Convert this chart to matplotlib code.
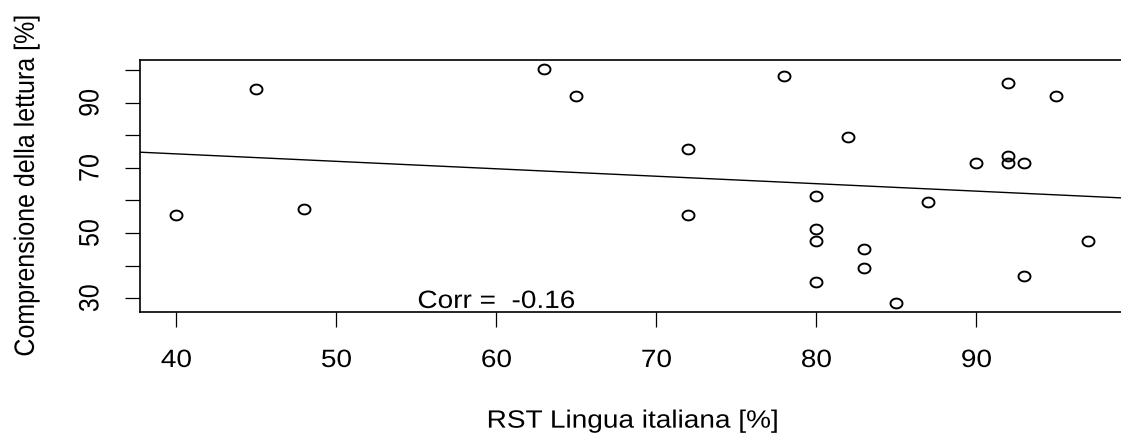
import numpy as np
import matplotlib
matplotlib.use("Agg")
import matplotlib.pyplot as plt
from matplotlib.path import Path
from matplotlib.patheffects import AbstractPathEffect
from matplotlib.transforms import Affine2D

# ----------------------------------
# Data
# ----------------------------------

rst_italiano = [40, 45, 48, 63, 65, 72, 72, 78, 80, 80, 80, 80, 82,
                83, 83, 85, 87, 90, 92, 92, 92, 93, 93, 95, 97]
comprensione = [55.6, 94.2, 57.4, 100.3, 92.1, 75.8, 55.6, 98.3, 61.4, 51.3,
                47.4, 34.9, 79.6, 45.0, 39.2, 28.6, 59.5, 71.4, 96.0, 73.7,
                71.4, 71.4, 36.8, 92.2, 47.4]
x_ticks = [40, 50, 60, 70, 80, 90]
y_ticks = [30, 40, 50, 60, 70, 80, 90, 100]
y_ticklabels = ["30", "", "50", "", "70", "", "90", ""]
corr_label = "Corr =  -0.16"

x = np.array(rst_italiano, dtype=float)
y = np.array(comprensione, dtype=float)


# the reference text looks stretched sideways, imitate that
class StretchX(AbstractPathEffect):
    def __init__(self, sx):
        super().__init__()
        self.sx = sx

    def draw_path(self, renderer, gc, tpath, affine, rgbFace=None):
        bb = tpath.get_extents(affine)
        cx = (bb.x0 + bb.x1) / 2
        affine = affine + Affine2D().translate(-cx, 0).scale(self.sx, 1).translate(cx, 0)
        renderer.draw_path(gc, tpath, affine, rgbFace)


stretch = [StretchX(1.12)]

plt.rcParams["font.family"] = ["Liberation Sans", "DejaVu Sans"]
plt.rcParams["font.size"] = 18

W, H = 1121, 433
fig = plt.figure(figsize=(W / 100, H / 100), dpi=100)

# R-style 4% padding around the data range
xpad = (x.max() - x.min()) * 0.04
ypad = (y.max() - y.min()) * 0.04
xlim = (x.min() - xpad, x.max() + xpad)
ylim = (y.min() - ypad, y.max() + ypad)

# plot region in pixels: left 140, top 60, bottom 312, right beyond the image
px_per_x = 16.0
left_px = 140
right_px = left_px + (xlim[1] - xlim[0]) * px_per_x
ax = fig.add_axes([left_px / W, (H - 312) / H,
                   (right_px - left_px) / W, (312 - 60) / H])
ax.set_xlim(*xlim)
ax.set_ylim(*ylim)

# slightly flattened open circles, like the reference
t = np.linspace(0, 2 * np.pi, 60)
ellipse = Path(np.column_stack([np.cos(t), 0.82 * np.sin(t)]), closed=True)

ax.plot(x, y, linestyle="none", marker=ellipse, markersize=8.6,
        markerfacecolor="none", markeredgecolor="black", markeredgewidth=1.4)

# regression line
slope, intercept = np.polyfit(x, y, 1)
ax.axline((0, intercept), slope=slope, color="black", linewidth=1.0)

ax.text(60, ylim[0] + 3.4, corr_label, ha="center", va="center",
        path_effects=stretch)

ax.set_xticks(x_ticks)
ax.set_yticks(y_ticks)
ax.set_yticklabels(y_ticklabels, rotation=90, va="center")
ax.tick_params(direction="out", length=10.6, width=0.9)
ax.tick_params(axis="x", pad=15.3)
ax.tick_params(axis="y", pad=16.5)
plt.setp(ax.get_xticklabels() + ax.get_yticklabels(), path_effects=stretch)

for side in ["left", "top", "bottom"]:
    ax.spines[side].set_linewidth(1.2)
ax.spines["right"].set_visible(False)

ax.set_xlabel("RST Lingua italiana [%]", labelpad=26.4, path_effects=stretch)
ax.set_ylabel("Comprensione della lettura [%]", labelpad=29, path_effects=stretch)

plt.savefig("out.png", dpi=100)
